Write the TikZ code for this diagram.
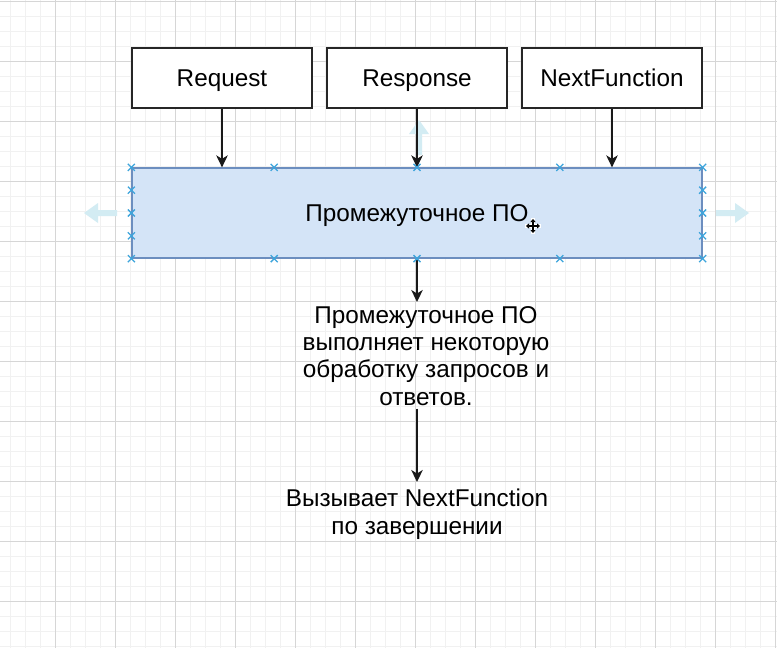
\documentclass[tikz,border=0pt]{standalone}
\usepackage{fontspec}
\setmainfont{Liberation Sans}
\usetikzlibrary{arrows.meta,calc}
\definecolor{gridminor}{HTML}{F1F1F1}
\definecolor{gridmajor}{HTML}{D6D6D6}
\definecolor{mwfill}{HTML}{D4E4F7}
\definecolor{mwdraw}{HTML}{6C8EBF}
\definecolor{handle}{HTML}{3DA5DC}
\definecolor{ghost}{HTML}{D3ECF3}
\begin{document}
\begin{tikzpicture}[x=1pt,y=-1pt,
  every node/.style={font=\fontsize{24.3}{27.3}\selectfont},
  topbox/.style={draw=black!85, line width=1.3pt, fill=white, minimum width=180pt, minimum height=60pt, inner sep=0pt, text height=17.5pt, text depth=0pt},
  mwbox/.style={draw=mwdraw, line width=1.3pt, fill=mwfill, minimum width=570pt, minimum height=90pt, inner sep=0pt, text height=17.5pt, text depth=0pt},
  txt/.style={align=center, inner sep=0pt},
  arr/.style={-{Stealth[length=12pt,width=11.5pt,inset=3.5pt]}, line width=1.4pt, black!90},
  hmark/.style={draw=handle, line width=1.3pt},
  ghostarrow/.style={fill=ghost, draw=none},
  gminor/.style={draw=gridminor, line width=1pt},
  gmajor/.style={draw=gridmajor, line width=1pt},
]
\fill[white] (0,0) rectangle (777,648);
\useasboundingbox (0,0) rectangle (777,648);

% grid
\foreach \x in {10,25,...,775} \draw[gminor] (\x,0) -- (\x,648);
\foreach \y in {1.5,16.5,...,647} \draw[gminor] (0,\y) -- (777,\y);
\foreach \x in {55,115,...,775} \draw[gmajor] (\x,0) -- (\x,648);
\foreach \y in {1.5,61.5,...,647} \draw[gmajor] (0,\y) -- (777,\y);

% ghost arrows (selection UI)
\fill[ghostarrow] (84,213) -- (98,203) -- (98,210) -- (117,210) -- (117,216) -- (98,216) -- (98,223) -- cycle;
\fill[ghostarrow] (749,213) -- (735,203) -- (735,210) -- (716,210) -- (716,216) -- (735,216) -- (735,223) -- cycle;
\fill[ghostarrow] (419,120) -- (409,134) -- (416,134) -- (416,155) -- (422,155) -- (422,134) -- (429,134) -- cycle;

% nodes
\node[topbox] (req) at (222,78) {Request};
\node[topbox] (res) at (417,78) {Response};
\node[topbox] (nxt) at (612,78) {NextFunction};
\node[mwbox] (mw) at (417,213) {Промежуточное ПО};
\node[txt, anchor=north] (t1) at (426,306) {Промежуточное ПО\\выполняет некоторую\\обработку запросов и\\ответов.};
\node[txt, anchor=north] (t2) at (417,489) {Вызывает NextFunction\\по завершении};

% connectors
\draw[arr] (req.south) -- (req.south |- mw.north);
\draw[arr] (res.south) -- (res.south |- mw.north);
\draw[arr] (nxt.south) -- (nxt.south |- mw.north);
\draw[arr, shorten >=4pt] (mw.south) -- (mw.south |- t1.north);
\draw[arr, shorten <=3pt, shorten >=7pt] (mw.south |- t1.south) -- (mw.south |- t2.north);

% selection handles
\foreach \f in {0,0.25,0.5,0.75,1} {
  \coordinate (ht) at ($(mw.north west)!\f!(mw.north east)$);
  \coordinate (hb) at ($(mw.south west)!\f!(mw.south east)$);
  \draw[hmark] ($(ht)+(-3.5,-3.5)$) -- ($(ht)+(3.5,3.5)$) ($(ht)+(-3.5,3.5)$) -- ($(ht)+(3.5,-3.5)$);
  \draw[hmark] ($(hb)+(-3.5,-3.5)$) -- ($(hb)+(3.5,3.5)$) ($(hb)+(-3.5,3.5)$) -- ($(hb)+(3.5,-3.5)$);
}
\foreach \f in {0.25,0.5,0.75} {
  \coordinate (hl) at ($(mw.north west)!\f!(mw.south west)$);
  \coordinate (hr) at ($(mw.north east)!\f!(mw.south east)$);
  \draw[hmark] ($(hl)+(-3.5,-3.5)$) -- ($(hl)+(3.5,3.5)$) ($(hl)+(-3.5,3.5)$) -- ($(hl)+(3.5,-3.5)$);
  \draw[hmark] ($(hr)+(-3.5,-3.5)$) -- ($(hr)+(3.5,3.5)$) ($(hr)+(-3.5,3.5)$) -- ($(hr)+(3.5,-3.5)$);
}

% move cursor
\draw[white, line width=3.5pt] (525,226) -- (541,226) (533,218) -- (533,234);
\draw[black, line width=1.2pt, {Triangle[length=3pt,width=5pt]}-{Triangle[length=3pt,width=5pt]}] (526,226) -- (540,226);
\draw[black, line width=1.2pt, {Triangle[length=3pt,width=5pt]}-{Triangle[length=3pt,width=5pt]}] (533,219) -- (533,233);
\end{tikzpicture}
\end{document}
